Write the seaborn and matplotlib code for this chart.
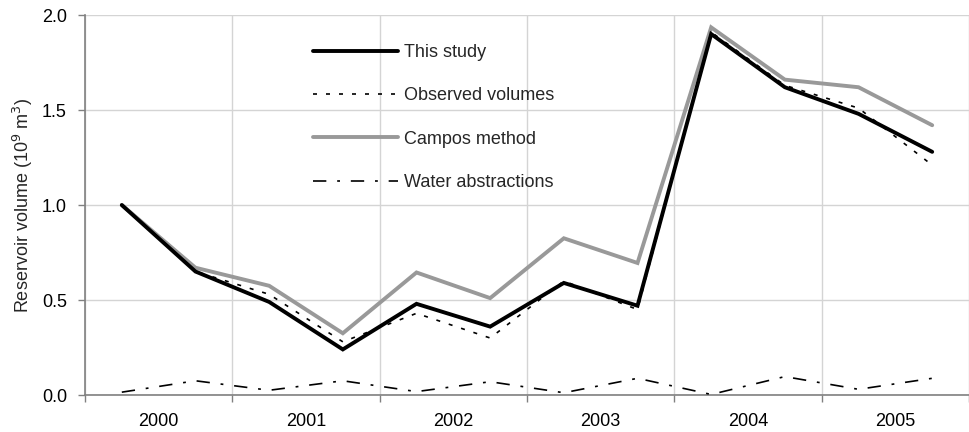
import numpy as np
import pandas as pd
import matplotlib
matplotlib.use("Agg")
import matplotlib.pyplot as plt
import seaborn as sns

years = ["2000", "2001", "2002", "2003", "2004", "2005"]
positions = [0.25, 0.75, 1.25, 1.75, 2.25, 2.75, 3.25, 3.75, 4.25, 4.75, 5.25, 5.75]
this_study = [1.00, 0.65, 0.49, 0.24, 0.48, 0.36, 0.59, 0.47, 1.90, 1.62, 1.48, 1.28]
observed = [1.00, 0.65, 0.53, 0.28, 0.43, 0.30, 0.60, 0.45, 1.91, 1.63, 1.51, 1.21]
campos = [1.00, 0.67, 0.575, 0.325, 0.645, 0.51, 0.825, 0.695, 1.935, 1.66, 1.62, 1.42]
abstractions = [0.015, 0.075, 0.025, 0.075, 0.018, 0.07, 0.012, 0.088, 0.003, 0.097, 0.03, 0.088]

series_names = ["This study", "Observed volumes", "Campos method", "Water abstractions"]
series_vals = [this_study, observed, campos, abstractions]

df = pd.concat([
    pd.DataFrame({"x": positions, "y": v, "series": n})
    for n, v in zip(series_names, series_vals)
], ignore_index=True)

sns.set_theme(style="white")
plt.rcParams["font.family"] = ["Liberation Sans", "DejaVu Sans"]

fig = plt.figure(figsize=(9.7, 4.32), dpi=100)
ax = fig.add_axes([0.0876, 0.0856, 0.9114, 0.8796])

palette = {"This study": "black", "Observed volumes": "black",
           "Campos method": "#999999", "Water abstractions": "black"}
sns.lineplot(data=df, x="x", y="y", hue="series", palette=palette,
             hue_order=series_names, ax=ax, sort=False, legend=False)

styles = {
    "This study": dict(lw=2.8, ls="-"),
    "Observed volumes": dict(lw=1.2, ls=(0, (2.4, 5.4))),
    "Campos method": dict(lw=2.8, ls="-"),
    "Water abstractions": dict(lw=1.2, ls=(0, (8, 6.5, 1.7, 6.5))),
}
zorders = {"This study": 4, "Observed volumes": 5, "Campos method": 3, "Water abstractions": 3}
for line, name in zip(ax.get_lines(), series_names):
    line.set_linewidth(styles[name]["lw"])
    line.set_linestyle(styles[name]["ls"])
    line.set_zorder(zorders[name])
    line.set_label(name)
    line.set_solid_joinstyle("miter")

fs = 13
ax.set_xlim(0, 6)
ax.set_ylim(0, 2.0)
ax.set_yticks([0.0, 0.5, 1.0, 1.5, 2.0])
ax.set_yticklabels(["0.0", "0.5", "1.0", "1.5", "2.0"])
ax.set_xticks(range(7))
ax.set_xticklabels([""] * 7)
ax.set_xticks([i + 0.5 for i in range(6)], minor=True)
ax.set_xticklabels(years, minor=True)
ax.tick_params(axis="x", which="major", length=5, width=1, color="#808080", direction="out", bottom=True)
ax.tick_params(axis="x", which="minor", length=0, pad=13, labelsize=fs, colors="black")
ax.tick_params(axis="y", length=5, width=1, color="#808080", direction="out", left=True,
               labelsize=fs, pad=8, labelcolor="black")

ax.grid(True, which="major", color="#d4d4d4", lw=1)
ax.set_axisbelow(True)
for s in ["top", "right"]:
    ax.spines[s].set_visible(False)
for s in ["left", "bottom"]:
    ax.spines[s].set_color("#808080")
    ax.spines[s].set_linewidth(1.2)

ax.set_xlabel("")
ax.set_ylabel("Reservoir volume (10$^9$ m$^3$)", fontsize=fs, labelpad=5)

leg = ax.legend(loc="upper left", bbox_to_anchor=(0.2495, 0.942), frameon=False,
                fontsize=fs, handlelength=4.7, handletextpad=0.35,
                labelspacing=1.45, borderaxespad=0)

fig.savefig("out.png", dpi=100)
